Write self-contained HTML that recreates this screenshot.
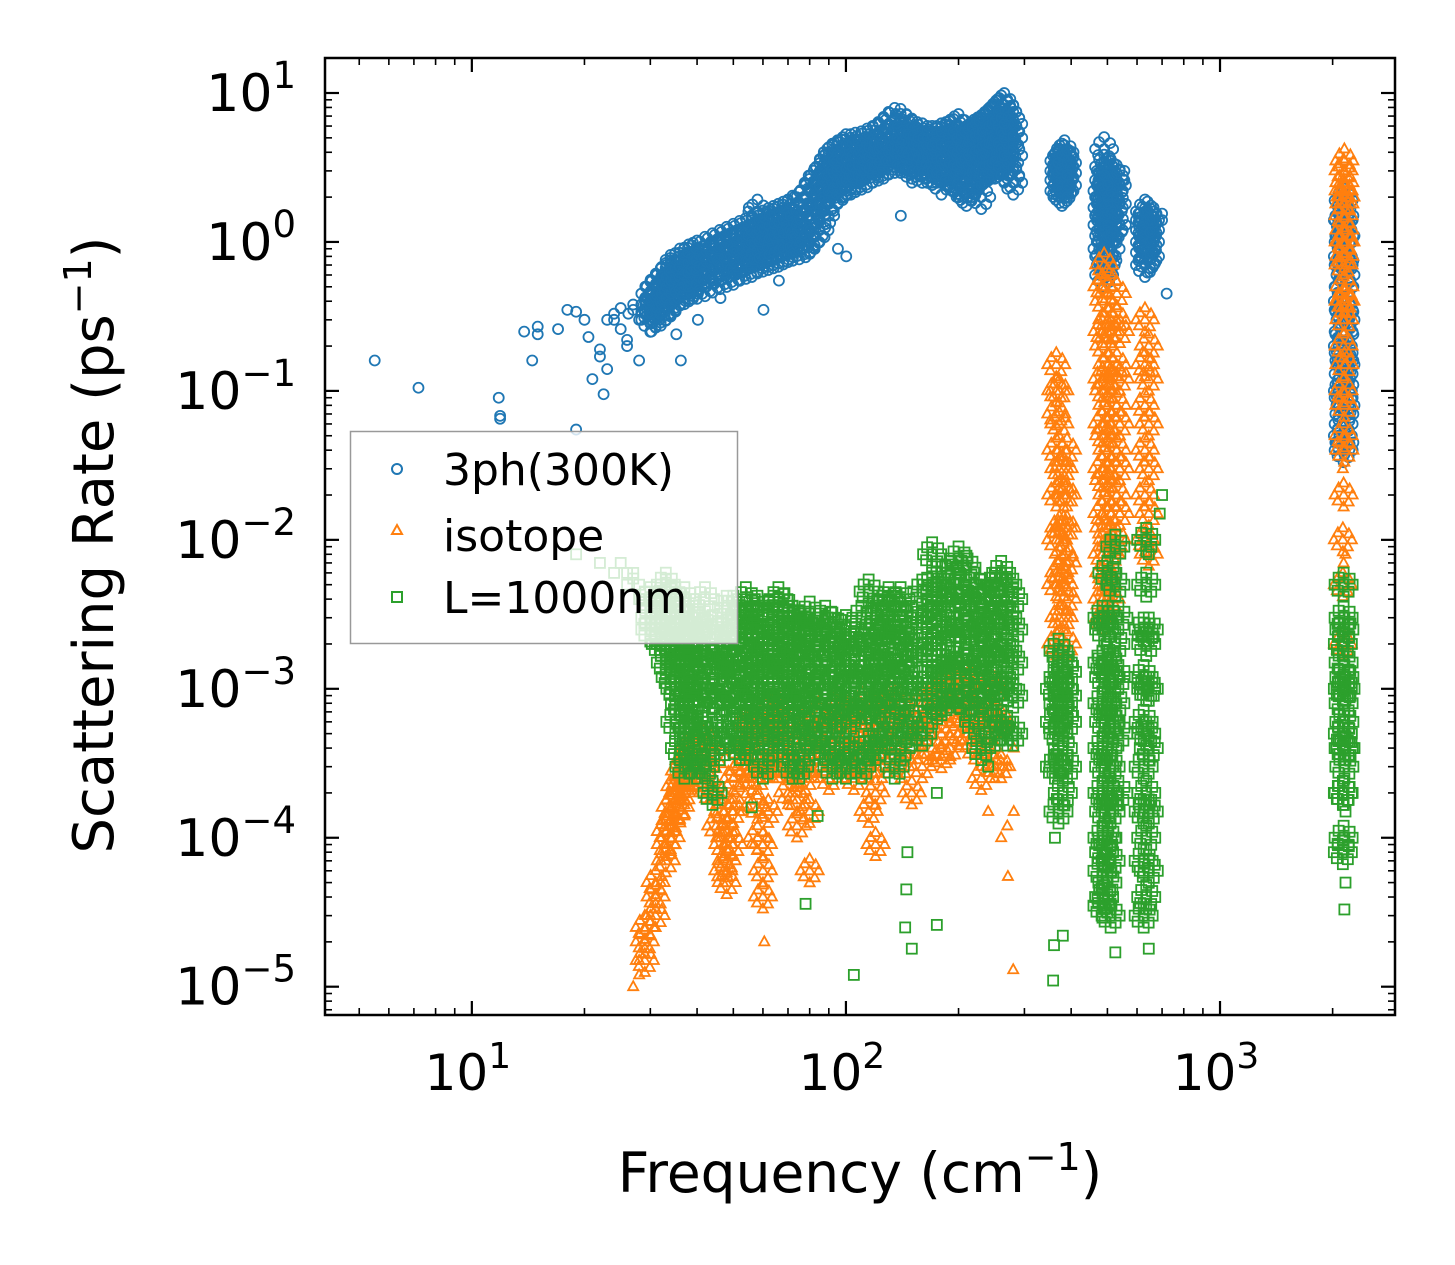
<!DOCTYPE html>
<html><head><meta charset="utf-8">
<style>
html,body{margin:0;padding:0;background:#fff;}
svg{display:block;font-family:"DejaVu Sans","Liberation Sans",sans-serif;}
</style></head>
<body>
<svg id="chart" width="1455" height="1265" viewBox="0 0 1455 1265" xmlns="http://www.w3.org/2000/svg">
<g id="marks"></g>
<g id="axes"></g>
<text x="860" y="1192" font-size="55" text-anchor="middle">Frequency (cm<tspan dy="-22" font-size="38">−1</tspan><tspan dy="22">)</tspan></text>
<text transform="translate(113,545) rotate(-90)" font-size="56" text-anchor="middle">Scattering Rate (ps<tspan dy="-22" font-size="38">−1</tspan><tspan dy="22">)</tspan></text>
<g>
<rect x="350.5" y="431.5" width="387" height="212" fill="#fff" fill-opacity="0.8" stroke="#999" stroke-width="1.5"/>
<circle cx="397" cy="469" r="5" fill="none" stroke="#1f77b4" stroke-width="2"/>
<text x="443" y="485" font-size="44">3ph(300K)</text>
<path d="M397,525 L402,534 L392,534 Z" fill="none" stroke="#ff7f0e" stroke-width="2"/>
<text x="443" y="551" font-size="44">isotope</text>
<rect x="392" y="592" width="10" height="10" fill="none" stroke="#2ca02c" stroke-width="2"/>
<text x="443" y="613" font-size="44">L=1000nm</text>
</g>
</svg>
<script>
// data: [frequency (cm^-1), [scattering rates (ps^-1)]]
const blueData = [
[5.5,[0.16]],[7.2,[0.105]],[11.8,[0.09]],[11.9,[0.065,0.068]],[13.8,[0.25]],[14.5,[0.16]],[15,[0.27,0.24]],[17,[0.26]],[18,[0.35]],[19,[0.055,0.34]],[20,[0.3]],[20.5,[0.23]],[21,[0.12]],[22,[0.17,0.19]],[22.5,[0.095]],[23,[0.14,0.3]],[24,[0.3,0.33]],[25,[0.36,0.26]],[26,[0.22,0.2]],[26.2,[0.33]],[27,[0.38,0.35]],[28,[0.16,0.3]],[29,[0.33,0.4]],
[30,[0.3,0.34,0.38,0.45]],[30.2,[0.25]],[31,[0.32,0.36,0.42,0.5]],[32,[0.33,0.4,0.47,0.55]],[33,[0.36,0.44,0.52,0.6]],[34,[0.38,0.45,0.52,0.6,0.68]],[35,[0.42,0.5,0.58,0.7]],[35.2,[0.24]],[36,[0.45,0.55,0.62,0.75]],[36.2,[0.16]],[37,[0.46,0.56,0.66,0.76]],[38,[0.48,0.58,0.68,0.8]],[39,[0.5,0.6,0.7,0.82]],[40,[0.5,0.62,0.72,0.85]],[40.2,[0.3]],[42,[0.52,0.64,0.75,0.9]],[44,[0.55,0.68,0.8,0.95]],[46,[0.58,0.72,0.85,1.0]],[46.2,[0.42]],[48,[0.6,0.75,0.9,1.05]],[50,[0.62,0.78,0.92,1.1]],[52,[0.66,0.8,0.95,1.15]],[54,[0.68,0.85,1.0,1.2]],[55,[1.7]],[56,[0.7,0.88,1.05,1.25]],[58,[0.74,0.92,1.1,1.3,1.6]],[60,[0.76,0.95,1.15,1.35]],[60.2,[0.35]],[62,[0.78,1.0,1.2,1.4]],[64,[0.8,1.02,1.22,1.45]],[66,[0.82,1.05,1.28,1.5]],[66.2,[0.55]],[68,[0.85,1.1,1.32,1.55]],[70,[0.88,1.12,1.35,1.6]],[72,[0.9,1.15,1.4,1.7]],[75,[0.92,1.2,1.5,1.8]],[78,[0.95,1.3,1.6,2.0]],[80,[1.0,1.4,1.8,2.2]],[82,[1.1,1.6,2.0,2.5]],[85,[1.2,1.8,2.3,2.8]],[88,[1.5,2.1,2.6,3.2]],[90,[1.8,2.4,3.0,3.6]],[92,[2.0,2.6,3.1,3.8]],[95,[2.2,2.8,3.3,4.0]],[95.2,[0.9]],[98,[2.3,2.9,3.5,4.2]],[100,[2.5,3.0,3.5,4.4]],[100.2,[0.8]],[103,[2.5,3.0,3.6,4.4]],[106,[2.6,3.1,3.6,4.5]],[110,[2.7,3.2,3.8,4.6]],[114,[2.8,3.3,3.9,4.8]],[118,[3.0,3.5,4.0,5.0]],[122,[3.1,3.7,4.3,5.3]],[126,[3.2,3.9,4.6,5.6]],[130,[3.4,4.2,5.0,6.2]],[135,[3.5,4.4,5.4,6.6]],[140,[3.5,4.4,5.3,6.5]],[140.2,[1.5]],[145,[3.3,4.2,5.0,6.0]],[150,[3.2,4.0,4.8,5.6]],[150.2,[2.5]],[155,[3.1,3.9,4.6,5.3]],[160,[3.0,3.8,4.5,5.2]],[165,[3.0,3.7,4.4,5.0]],[170,[2.9,3.7,4.4,5.0]],[175,[3.0,3.7,4.3,5.0]],[180,[2.5,3.0,3.7,4.4,5.2]],[185,[2.9,3.6,4.4,5.3]],[190,[2.8,3.6,4.5,5.5]],[195,[2.6,3.5,4.5,5.8]],[200,[2.4,3.4,4.4,6.0]],[205,[2.2,3.3,4.2,5.5]],[210,[2.1,3.2,4.0,5.0]],[215,[2.3,3.4,4.2,5.2]],[220,[2.5,3.6,4.5,5.5]],[225,[2.7,3.8,4.7,5.7]],[230,[2.0,2.9,4.0,4.9,5.9]],[235,[3.0,4.1,5.1,6.2]],[240,[3.1,4.2,5.3,6.5]],[245,[3.2,4.4,5.5,6.8]],[250,[3.2,4.5,5.7,7.2]],[255,[3.3,4.6,6.0,7.6]],[260,[3.4,4.8,6.2,8.0]],[265,[3.5,5.0,6.5,8.3]],[270,[3.2,4.6,6.0,7.5]],[275,[2.8,4.2,5.5,6.8]],[280,[2.5,3.8,5.0,6.2]],
[372,[2.2,2.6,3.0,3.5]],[378,[2.1,2.4,2.9,3.3,3.8]],[384,[2.2,2.7,3.2,3.7,4.0]],[390,[2.4,2.9,3.4]],
[485,[0.9,1.3,1.7,2.2]],[490,[0.6,0.8,1.1,1.5,2.0,2.6,3.2,4.2]],[495,[0.7,1.0,1.4,1.8,2.4,3.0]],[500,[0.75,1.1,1.5,2.0,2.6]],[510,[0.9,1.3,1.8,2.4,3.0]],[520,[1.2,1.7,2.2,2.8]],[530,[1.3,1.8,2.4]],[555,[2.6,3.0]],
[630,[0.7,0.85,1.0,1.2,1.4,1.6]],[640,[0.75,0.95,1.15,1.35,1.55]],[650,[0.8,1.0,1.2,1.4]],[700,[1.4,1.55]],[720,[0.45]],
[2130,[0.05,0.1,0.2,0.4,0.8,1.4]],[2140,[0.04,0.06,0.09,0.13,0.18,0.25,0.35,0.5,0.7,1.0,1.4,1.9]],[2150,[0.045,0.07,0.11,0.16,0.24,0.34,0.5,0.75,1.1,1.5]],[2165,[0.08,0.15,0.3,0.6,1.1]]
];
const orangeData = [
[27,[1e-5]],[28,[1.2e-5,1.5e-5]],[29,[1.5e-5,2e-5,2.5e-5]],[30,[2.2e-5,3e-5]],[31,[3e-5,4e-5,5e-5]],[32,[5e-5,7e-5]],[33,[7e-5,9e-5,1.1e-4]],[34,[1e-4,1.3e-4,1.6e-4]],[35,[1.4e-4,1.8e-4,2.2e-4]],[36,[1.6e-4,2.2e-4,2.8e-4]],[37,[2e-4,2.6e-4,3.3e-4]],[38,[2.5e-4,3e-4,4e-4]],[40,[2.6e-4,3.3e-4,4.2e-4]],[42,[2.2e-4,3e-4,4.5e-4]],[45,[1.2e-4,2e-4,3.5e-4]],[47,[6e-5,9e-5,1.5e-4]],[48,[5e-5,7e-5,1.1e-4]],[50,[9e-5,1.5e-4,2.5e-4]],[52,[1.8e-4,2.8e-4,4e-4]],[54,[3e-4,4.5e-4,6e-4]],[56,[2.5e-4,4e-4,6e-4]],[58,[1e-4,1.6e-4,2.5e-4]],[60,[4e-5,6e-5,9e-5]],[60.5,[2e-5]],[62,[1.5e-4,3e-4,5e-4]],[64,[3e-4,5e-4,8e-4]],[66,[3e-4,5e-4,7e-4]],[70,[2e-4,3e-4,4.5e-4]],[74,[1.2e-4,1.8e-4,2.8e-4]],[78,[2.5e-4,4e-4,6e-4]],[80,[6e-5,1.5e-4,3e-4]],[85,[3e-4,5e-4,7e-4]],[90,[2.5e-4,4e-4,6e-4]],[95,[3e-4,5e-4,8e-4]],[100,[3e-4,5e-4,7e-4]],[105,[2.5e-4,4e-4,6e-4]],[110,[3e-4,5e-4,8e-4]],[115,[1.5e-4,3e-4,5e-4]],[120,[9e-5,2e-4,4e-4]],[125,[3e-4,5e-4,8e-4]],[130,[4e-4,6e-4,9e-4]],[140,[3e-4,5e-4,8e-4]],[150,[2e-4,4e-4,6e-4]],[160,[3e-4,5e-4,8e-4]],[170,[4e-4,6e-4,9e-4]],[180,[3.5e-4,6e-4,1e-3]],[190,[4e-4,7e-4,1.1e-3]],[200,[5e-4,8e-4,1.3e-3]],[210,[5e-4,8e-4,1.2e-3]],[220,[4e-4,7e-4,1.1e-3]],[230,[2.5e-4,5e-4,9e-4]],[240,[1.5e-4,4e-4,7e-4]],[250,[3e-4,6e-4,1e-3]],[260,[1e-4,3e-4,6e-4]],[270,[1.2e-4,3e-4]],[271,[5.5e-5]],[280,[1.3e-5]],[281,[1.5e-4,4e-4]],
[365,[0.002,0.005,0.01,0.02,0.04,0.07,0.1,0.15]],[372,[0.003,0.006,0.012,0.03,0.06,0.1]],[382,[0.003,0.005,0.008,0.012,0.02,0.03]],[390,[0.002,0.004,0.007,0.012,0.02,0.04]],
[485,[0.004,0.008,0.015,0.03,0.06,0.12,0.25,0.5]],[490,[0.003,0.006,0.012,0.025,0.05,0.1,0.2,0.4,0.7]],[500,[0.005,0.01,0.02,0.04,0.08,0.15,0.3,0.55]],[510,[0.004,0.008,0.015,0.03,0.06,0.12,0.25]],[530,[0.01,0.02,0.04,0.08,0.15,0.3,0.45]],[540,[0.015,0.03,0.06,0.12,0.25]],
[630,[0.01,0.02,0.04,0.08,0.15,0.3]],[645,[0.008,0.015,0.03,0.06,0.12,0.2]],
[2130,[0.002,0.005,0.01,0.03,0.1,0.3,1.0]],[2140,[0.007,0.02,0.05,0.1,0.2,0.4,0.7,1.0,1.5,2.2,3.0]],[2150,[0.04,0.08,0.15,0.3,0.5,0.8,1.2,1.8,2.5,3.5]],[2165,[0.008,0.05,0.15,0.4,1.0,2.0]]
];
const greenData = [
[19,[0.008]],[22,[0.007]],[24,[0.006]],[25,[0.007]],[26,[0.005,0.006]],[27,[0.006,0.0055]],[28,[0.005,0.004]],[29,[0.0045,0.0035]],[30,[0.004,0.003,0.0025]],[32,[0.0035,0.003,0.0025,0.002]],[33,[0.005,0.0045,0.003,0.002,0.0015]],[34,[0.004,0.003,0.0022,0.0012]],
[35,[0.0006,0.001,0.0016,0.0025,0.004]],[36,[0.0004,0.0008,0.0013,0.002,0.003]],[37,[0.0003,0.0006,0.001,0.0016,0.0025,0.004]],[38,[0.0005,0.0009,0.0015,0.0023]],[39,[0.00037,0.0007,0.0012,0.002,0.003]],[40,[0.0003,0.0006,0.001,0.0017,0.0027]],[42,[0.0003,0.0005,0.0009,0.0015,0.0025,0.004]],[44,[0.0002,0.0005,0.0009,0.0015,0.0026]],[46,[0.0004,0.0008,0.0013,0.002]],[48,[0.0006,0.001,0.0016,0.0025,0.0035]],[50,[0.0005,0.0009,0.0014,0.0022,0.0035]],[52,[0.0004,0.0008,0.0012,0.002,0.003]],[54,[0.0004,0.0007,0.0011,0.0018,0.0028,0.004]],[56,[0.00016,0.0006,0.001,0.0016,0.0026]],[58,[0.0005,0.0009,0.0015,0.0024,0.0035]],[60,[0.0003,0.0007,0.0012,0.002,0.003]],[62,[0.0004,0.0008,0.0013,0.002]],[64,[0.0005,0.0009,0.0014,0.0022,0.0035]],[66,[0.0006,0.001,0.0016,0.0025,0.004]],[68,[0.0005,0.0009,0.0015,0.0024,0.0036]],[70,[0.0004,0.0008,0.0013,0.002,0.003]],[72,[0.0003,0.0007,0.0012,0.0019,0.003]],[75,[0.0003,0.0006,0.001,0.0017,0.0028]],[78,[3.6e-5,0.0005,0.0009,0.0015,0.0025]],[80,[0.0004,0.0008,0.0013,0.0021,0.0032]],[84,[0.00014,0.0005,0.0009,0.0015,0.0025]],[88,[0.0004,0.0007,0.0012,0.002,0.003]],[92,[0.0003,0.0006,0.001,0.0017,0.0027]],[96,[0.0004,0.0008,0.0013,0.0021]],[100,[0.0003,0.0006,0.001,0.0016,0.0026]],[105,[1.2e-5,0.0004,0.0008,0.0013,0.002]],[110,[0.0003,0.0007,0.0012,0.002,0.003]],[115,[0.0004,0.0008,0.0013,0.0021,0.0045]],[120,[0.0004,0.0007,0.0012,0.0019,0.003]],[125,[0.0005,0.0009,0.0015,0.0024,0.0035]],[130,[0.0005,0.001,0.0016,0.0026,0.004]],[135,[0.0003,0.0007,0.0013,0.0022,0.0035]],[140,[0.0004,0.0008,0.0014,0.0024,0.004]],[144,[2.5e-5]],[145,[4.5e-5]],[146,[8e-5]],[147,[0.0006,0.0012,0.002]],[150,[1.8e-5,0.0005,0.001,0.0018,0.003]],[160,[0.0005,0.001,0.0017,0.0028,0.0045]],[170,[0.0007,0.0012,0.002,0.0033,0.005,0.008]],[175,[2.6e-5,0.0002,0.0008,0.0014,0.0024,0.004]],[180,[0.0008,0.0013,0.0022,0.0035,0.0055]],[190,[0.0009,0.0015,0.0025,0.004,0.006]],[200,[0.0009,0.0016,0.0027,0.0045,0.0075]],[210,[0.0008,0.0014,0.0024,0.004,0.0065]],[220,[0.0006,0.0012,0.002,0.0033,0.005]],[230,[0.0004,0.0009,0.0016,0.0027,0.0045]],[240,[0.0003,0.0008,0.0015,0.0025,0.004]],[250,[0.0005,0.001,0.0018,0.003,0.005]],[260,[0.0006,0.0012,0.002,0.0035,0.006]],[270,[0.0005,0.001,0.0018,0.003,0.005]],[280,[0.0005,0.0009,0.0015,0.0025,0.004]],
[358,[1.1e-5]],[360,[1.9e-5]],[362,[0.0001,0.0003,0.0006,0.001]],[370,[0.00015,0.0003,0.0005,0.0008,0.0012,0.0018]],[380,[2.2e-5,0.0002,0.0004,0.0007,0.001,0.0015]],[390,[0.0003,0.0006,0.0009,0.0013]],
[485,[3.5e-5,6e-5,0.0001,0.0002,0.0004,0.0008,0.0015,0.003]],[490,[4e-5,8e-5,0.00015,0.0003,0.0006,0.0012,0.0025]],[500,[5e-5,0.0001,0.0002,0.0004,0.0008,0.0016,0.003,0.006]],[510,[3e-5,7e-5,0.00015,0.0003,0.0006,0.0012]],[525,[1.7e-5,0.0001,0.0003,0.0008,0.002,0.005,0.009]],[535,[0.0002,0.0005,0.0012,0.003]],
[625,[3e-5,7e-5,0.00015,0.0003,0.0006,0.0012,0.0025]],[635,[4e-5,0.0001,0.0002,0.0005,0.001,0.002,0.005,0.01]],[645,[1.8e-5,6e-5,0.00015,0.0004,0.001,0.0025,0.008]],[700,[0.02]],[690,[0.015]],
[2130,[8e-5,0.0002,0.0005,0.001,0.002]],[2140,[0.0001,0.0002,0.0004,0.0008,0.0015,0.003,0.005]],[2150,[3.3e-5,0.0001,0.0003,0.0006,0.0012,0.0025]],[2165,[5e-5,0.00015,0.0004,0.001]]
];
const xTickVals = [10,100,1000];
const xTickLabels = ["1","2","3"];
const yTickVals = [1e1,1e0,1e-1,1e-2,1e-3,1e-4,1e-5];
const yTickExps = ["1","0","−1","−2","−3","−4","−5"];

const L=325,R=1395,T=58,B=1015;
const xmin=Math.log10(4.05), xmax=Math.log10(2936);
const ymin=-5.19, ymax=1.235;
const X=f=>L+(Math.log10(f)-xmin)/(xmax-xmin)*(R-L);
const Y=v=>B-(Math.log10(v)-ymin)/(ymax-ymin)*(B-T);
const NS="http://www.w3.org/2000/svg";
const marks=document.getElementById('marks');
const axes=document.getElementById('axes');
// cloud rendering offsets (pixels) for points inside dense bands
const cloud=[[0,0],[-5,-7],[5,7],[6,-6],[-6,6],[0,-12],[0,12],[-9,0],[9,0]];
function mk(tag,attrs,parent){const e=document.createElementNS(NS,tag);for(const k in attrs)e.setAttribute(k,attrs[k]);parent.appendChild(e);return e;}

function drawSeries(data,color,shape,name){
  const g=mk('g',{fill:'none',stroke:color,'stroke-width':1.8},marks);
  
  
  data.forEach(([f,vals])=>{
    vals.forEach((v,i)=>{
    const dense = vals.length>=3 && vals.some((w,j)=>j!==i && Math.abs(Math.log10(w/v))<0.42);
    const offs = dense ? cloud : [[0,0]];
    offs.forEach(([dx,dy])=>{
    const x=X(f)+dx,y=Y(v)+dy;let e;
    if(shape==='circle') e=mk('circle',{cx:x,cy:y,r:5},g);
    else if(shape==='tri') e=mk('path',{d:`M${x},${y-5.5} L${x+5},${y+3.5} L${x-5},${y+3.5} Z`},g);
    else e=mk('rect',{x:x-5,y:y-5,width:10,height:10},g);
    
    
  });});});
}
drawSeries(blueData,'#1f77b4','circle','series-3ph');
drawSeries(orangeData,'#ff7f0e','tri','series-isotope');
drawSeries(greenData,'#2ca02c','sq','series-boundary');

const fr=mk('rect',{x:L,y:T,width:R-L,height:B-T,fill:'none',stroke:'#000','stroke-width':2.5},axes);


for(let d=0;d<=3;d++){for(let m=1;m<=9;m++){const f=m*Math.pow(10,d);if(f<4.05||f>2936)continue;const x=X(f);const len=m===1?14:7;
  mk('line',{x1:x,x2:x,y1:B,y2:B-len,stroke:'#000','stroke-width':m===1?2.2:1.6},axes);
  mk('line',{x1:x,x2:x,y1:T,y2:T+len,stroke:'#000','stroke-width':m===1?2.2:1.6},axes);}}
for(let d=-6;d<=1;d++){for(let m=1;m<=9;m++){const v=m*Math.pow(10,d);const lv=Math.log10(v);if(lv<ymin||lv>ymax)continue;const y=Y(v);const len=m===1?14:7;
  mk('line',{x1:L,x2:L+len,y1:y,y2:y,stroke:'#000','stroke-width':m===1?2.2:1.6},axes);
  mk('line',{x1:R,x2:R-len,y1:y,y2:y,stroke:'#000','stroke-width':m===1?2.2:1.6},axes);}}
xTickVals.forEach((v,i)=>{const t=mk('text',{x:X(v)-4,y:1090,'font-size':50,'text-anchor':'middle'},axes);
  
  
  t.innerHTML='10<tspan dy="-22" font-size="36">'+xTickLabels[i]+'</tspan>';});
yTickVals.forEach((v,i)=>{const t=mk('text',{x:296,y:Y(v)+18,'font-size':52,'text-anchor':'end'},axes);
  
  
  t.innerHTML='10<tspan dy="-23" font-size="37">'+yTickExps[i]+'</tspan>';});
</script>
</body></html>
